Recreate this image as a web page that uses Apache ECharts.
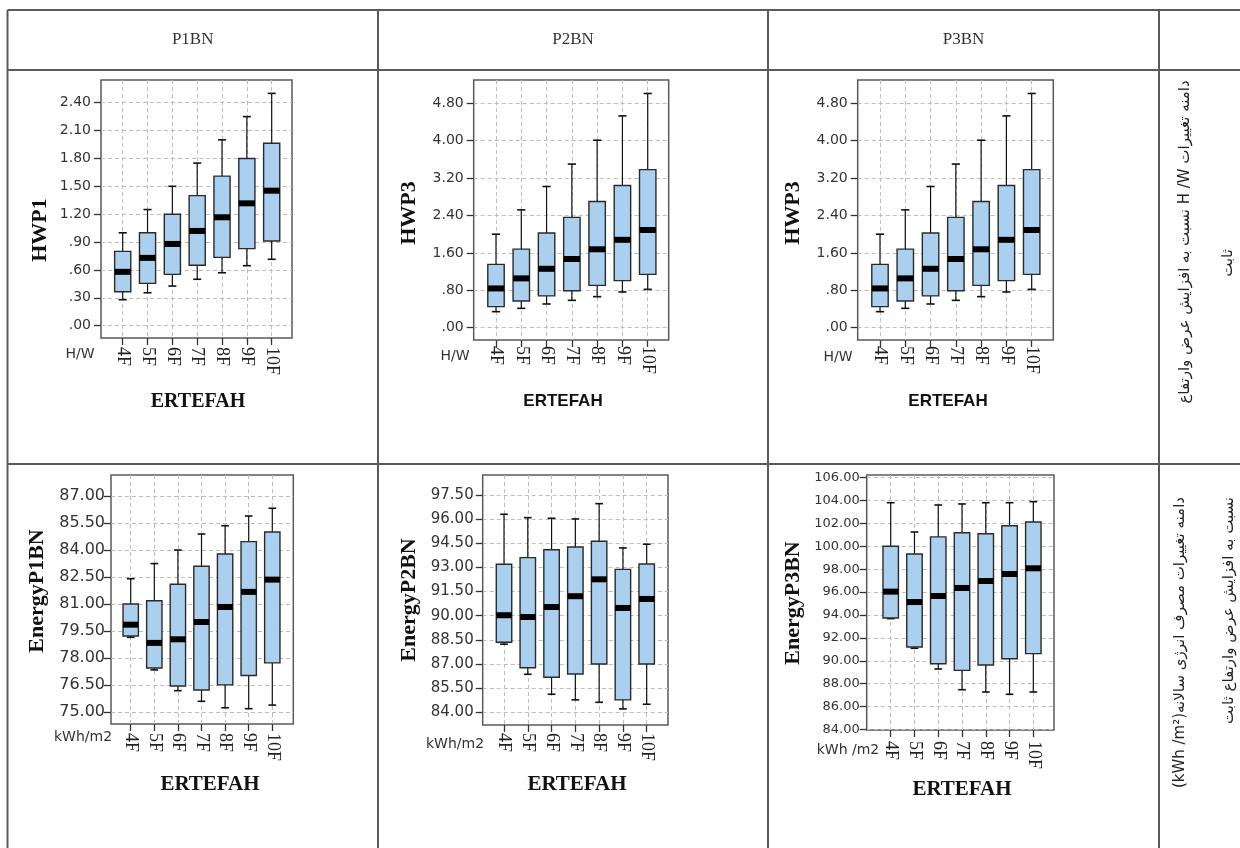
<!DOCTYPE html>
<html><head><meta charset="utf-8">
<script src="https://cdn.jsdelivr.net/npm/echarts@6/dist/echarts.min.js"></script>
<style>html,body{margin:0;padding:0;background:#fff}#c{width:1240px;height:848px}</style>
</head><body><div id="c"></div>
<script>
const categories = ['4F','5F','6F','7F','8F','9F','10F'];
// each row: [min, Q1, median, Q3, max]
const hwp1P1BN = [
  [0.28,0.366,0.58,0.80,1.00],[0.355,0.456,0.73,1.00,1.25],[0.427,0.553,0.88,1.20,1.50],
  [0.50,0.65,1.02,1.40,1.75],[0.57,0.736,1.167,1.61,2.00],[0.646,0.83,1.317,1.80,2.25],
  [0.715,0.912,1.453,1.963,2.50]];
const hwp3P2BN = [
  [0.343,0.45,0.84,1.355,2.00],[0.414,0.57,1.055,1.68,2.52],[0.507,0.68,1.26,2.025,3.02],
  [0.585,0.79,1.47,2.36,3.50],[0.664,0.906,1.677,2.70,4.01],[0.764,1.006,1.88,3.04,4.53],
  [0.82,1.14,2.09,3.38,5.01]];
const hwp3P3BN = [
  [0.343,0.45,0.84,1.355,2.00],[0.414,0.57,1.055,1.68,2.52],[0.507,0.68,1.26,2.025,3.02],
  [0.585,0.79,1.47,2.36,3.50],[0.664,0.906,1.677,2.70,4.01],[0.764,1.006,1.88,3.04,4.53],
  [0.82,1.14,2.09,3.38,5.01]];
const energyP1BN = [
  [79.16,79.23,79.86,81.01,82.41],[77.35,77.46,78.85,81.19,83.25],[76.2,76.46,79.05,82.1,84.0],
  [75.61,76.24,80.01,83.10,84.89],[75.25,76.52,80.84,83.78,85.35],[75.2,77.04,81.68,84.47,85.89],
  [75.4,77.74,82.36,85.0,86.32]];
const energyP2BN = [
  [88.23,88.35,90.03,93.2,96.30],[86.36,86.77,89.92,93.61,96.09],[85.12,86.18,90.54,94.1,96.05],
  [84.77,86.38,91.21,94.27,96.01],[84.62,87.0,92.26,94.62,96.96],[84.21,84.77,90.48,92.88,94.21],
  [84.5,87.0,91.04,93.21,94.44]];
const energyP3BN = [
  [93.68,93.74,96.04,100.0,103.81],[91.09,91.2,95.13,99.33,101.25],[89.28,89.74,95.66,100.82,103.61],
  [87.47,89.16,96.36,101.19,103.70],[87.27,89.63,96.97,101.1,103.81],[87.07,90.18,97.58,101.8,103.81],
  [87.27,90.62,98.08,102.13,103.9]];
const ticksHWP1 = [0,0.3,0.6,0.9,1.2,1.5,1.8,2.1,2.4];
const ticksHWP3 = [0,0.8,1.6,2.4,3.2,4.0,4.8];
const ticksE1 = [75,76.5,78,79.5,81,82.5,84,85.5,87];
const ticksE2 = [84,85.5,87,88.5,90,91.5,93,94.5,96,97.5];
const ticksE3 = [84,86,88,90,92,94,96,98,100,102,104,106];
const headers = ['P1BN','P2BN','P3BN'];
const yTitles = ['HWP1','HWP3','HWP3','EnergyP1BN','EnergyP2BN','EnergyP3BN'];
const xTitle = 'ERTEFAH';
const unitLabels = ['H/W','H/W','H/W','kWh/m2','kWh/m2','kWh /m2'];
const sideTop = ['دامنه تغییرات H /W نسبت به افزایش عرض وارتفاع','ثابت'];
const sideBottom = ['دامنه تغییرات مصرف انرژی سالانه(kWh /m²)','نسبت به افزایش عرض وارتفاع ثابت'];

const panels = [
  {data:hwp1P1BN, ticks:ticksHWP1, g:[101,80,191,258], y:[-0.132,2.644], x:[-0.874,6.818], fs:14, lm:10, xm:9,
   title:[40,230], unit:[80,354], xt:[198,402], xtFont:'bold 20px "Liberation Serif"'},
  {data:hwp3P2BN, ticks:ticksHWP3, g:[473.7,80,195,260], y:[-0.263,5.298], x:[-0.882,6.83], fs:14, lm:10, xm:6,
   title:[409,213], unit:[455,356], xt:[563,401], xtFont:'bold 17px "Liberation Sans"'},
  {data:hwp3P3BN, ticks:ticksHWP3, g:[857.7,80,195.6,260], y:[-0.263,5.298], x:[-0.882,6.855], fs:14, lm:10, xm:6,
   title:[793,213], unit:[838,357], xt:[948,401], xtFont:'bold 17px "Liberation Sans"'},
  {data:energyP1BN, ticks:ticksE1, g:[111,475,182.3,249], y:[74.35,88.165], x:[-0.835,6.89], fs:16, lm:6, xm:9,
   title:[37,591], unit:[83,737], xt:[210,785], xtFont:'bold 21px "Liberation Serif"'},
  {data:energyP2BN, ticks:ticksE2, g:[482.7,475,185.3,250], y:[83.21,98.74], x:[-0.896,6.896], fs:15, lm:9, xm:8,
   title:[409,600], unit:[455,744], xt:[577,785], xtFont:'bold 21px "Liberation Serif"'},
  {data:energyP3BN, ticks:ticksE3, g:[866.7,475,187.3,255], y:[83.95,106.23], x:[-1.01,6.87], fs:13, lm:7, xm:11,
   title:[793,603], unit:[848,750], xt:[962,790], xtFont:'bold 21px "Liberation Serif"'}
];

function fmtY(v){ let s = (+v).toFixed(2); return s.indexOf('0.')===0 ? s.slice(1) : s; }
const catIdx = categories.map((c,i)=>i);

function renderBox(params, api){
  const x = api.value(0);
  const pMin = api.coord([x, api.value(1)]);
  const pQ1 = api.coord([x, api.value(2)]);
  const pMed = api.coord([x, api.value(3)]);
  const pQ3 = api.coord([x, api.value(4)]);
  const pMax = api.coord([x, api.value(5)]);
  const bw = api.size([1,0])[0]*0.65;
  const cw = bw*0.5;
  const cx = pMed[0];
  const lineStyle = {stroke:'#111', lineWidth:1.2};
  const capStyle = {stroke:'#111', lineWidth:1.6};
  return {type:'group', children:[
    {type:'line', shape:{x1:cx,y1:pQ3[1],x2:cx,y2:pMax[1]}, style:lineStyle},
    {type:'line', shape:{x1:cx,y1:pQ1[1],x2:cx,y2:pMin[1]}, style:lineStyle},
    {type:'line', shape:{x1:cx-cw/2,y1:pMax[1],x2:cx+cw/2,y2:pMax[1]}, style:capStyle},
    {type:'line', shape:{x1:cx-cw/2,y1:pMin[1],x2:cx+cw/2,y2:pMin[1]}, style:capStyle},
    {type:'rect', shape:{x:cx-bw/2,y:pQ3[1],width:bw,height:pQ1[1]-pQ3[1]}, style:{fill:'#abcfee', stroke:'#2a2a2a', lineWidth:1.4}},
    {type:'rect', shape:{x:cx-bw/2,y:pMed[1]-3,width:bw,height:6}, style:{fill:'#000'}}
  ]};
}

const grid=[], xAxis=[], yAxis=[], series=[], graphic=[];
panels.forEach((p,i)=>{
  grid.push({left:p.g[0], top:p.g[1], width:p.g[2], height:p.g[3], show:true, borderColor:'#5a5a5a', borderWidth:1.5, backgroundColor:'#fff', containLabel:false});
  xAxis.push({type:'value', gridIndex:i, min:p.x[0], max:p.x[1], position:'bottom',
    axisLine:{show:false, onZero:false},
    axisTick:{show:true, length:7, inside:false, customValues:catIdx, lineStyle:{color:'#333', width:1.3}},
    axisLabel:{show:true, customValues:catIdx, rotate:-90, margin:p.xm, formatter:v=>categories[Math.round(v)],
      fontFamily:'Liberation Serif', fontSize:18, color:'#222'},
    splitLine:{show:true, lineStyle:{color:'#bdbdbd', type:[4,3], width:1}}});
  yAxis.push({type:'value', gridIndex:i, min:p.y[0], max:p.y[1], position:'left',
    axisLine:{show:false, onZero:false},
    axisTick:{show:true, length:7, customValues:p.ticks, lineStyle:{color:'#333', width:1.3}},
    axisLabel:{show:true, customValues:p.ticks, margin:p.lm, formatter:fmtY,
      fontFamily:'DejaVu Sans', fontSize:p.fs, color:'#333'},
    splitLine:{show:true, lineStyle:{color:'#bdbdbd', type:[4,3], width:1}}});
  series.push({type:'custom', xAxisIndex:i, yAxisIndex:i, renderItem:renderBox,
    encode:{x:0, y:[1,2,3,4,5]}, clip:false,
    data:p.data.map((r,k)=>[k].concat(r))});
  graphic.push({type:'text', x:p.title[0], y:p.title[1], rotation:Math.PI/2,
    style:{text:yTitles[i], font:'bold 22px "Liberation Serif"', fill:'#111', align:'center', verticalAlign:'middle'}});
  graphic.push({type:'text', x:p.unit[0], y:p.unit[1],
    style:{text:unitLabels[i], font:'14px "DejaVu Sans"', fill:'#333', align:'center', verticalAlign:'middle'}});
  graphic.push({type:'text', x:p.xt[0], y:p.xt[1],
    style:{text:xTitle, font:p.xtFont, fill:'#111', align:'center', verticalAlign:'middle'}});
});

// table lines
const lc = '#5a5a5a';
const lines = [
  [7.5,10,1240,10],[7.5,70,1240,70],[7.5,464,1240,464],
  [7.5,10,7.5,848],[378,10,378,848],[768,10,768,848],[1159,10,1159,848]
];
lines.forEach(l=>graphic.push({type:'line', z:-1, shape:{x1:l[0],y1:l[1],x2:l[2],y2:l[3]}, style:{stroke:lc, lineWidth:2}}));
const hx = [192.7,573,963.5];
headers.forEach((h,i)=>graphic.push({type:'text', x:hx[i], y:40,
  style:{text:h, font:'17px "Liberation Serif"', fill:'#333', align:'center', verticalAlign:'middle'}}));
const RLE='\u202B', PDF='\u202C';
graphic.push({type:'text', x:1185, y:242, rotation:Math.PI/2,
  style:{text:RLE+sideTop[0]+PDF, font:'15px "DejaVu Sans"', fill:'#222', align:'center', verticalAlign:'middle'}});
graphic.push({type:'text', x:1228, y:263, rotation:Math.PI/2,
  style:{text:RLE+sideTop[1]+PDF, font:'15px "DejaVu Sans"', fill:'#222', align:'center', verticalAlign:'middle'}});
graphic.push({type:'text', x:1180, y:497, rotation:Math.PI/2,
  style:{text:RLE+sideBottom[0]+PDF, font:'15px "DejaVu Sans"', fill:'#222', align:'right', verticalAlign:'middle'}});
graphic.push({type:'text', x:1229, y:497, rotation:Math.PI/2,
  style:{text:RLE+sideBottom[1]+PDF, font:'15px "DejaVu Sans"', fill:'#222', align:'right', verticalAlign:'middle'}});

const chart = echarts.init(document.getElementById('c'), null, {renderer:'canvas'});
chart.setOption({animation:false, backgroundColor:'#fff', grid, xAxis, yAxis, series, graphic});
</script></body></html>
